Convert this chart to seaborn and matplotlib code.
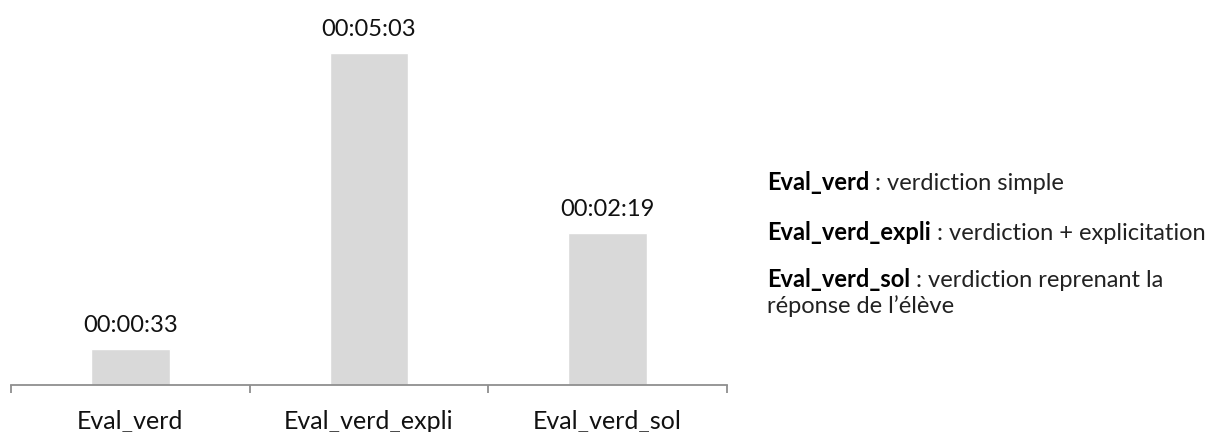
import matplotlib
matplotlib.use("Agg")
import matplotlib.pyplot as plt
import numpy as np
import pandas as pd
import seaborn as sns

CATEGORIES = ["Eval_verd", "Eval_verd_expli", "Eval_verd_sol"]
DURATIONS_S = [33, 303, 139]  # seconds
LEGEND_KEYS = ["Eval_verd", "Eval_verd_expli", "Eval_verd_sol"]
LEGEND_DESC = [" : verdiction simple", " : verdiction + explicitation",
               " : verdiction reprenant la"]
LEGEND_EXTRA = "réponse de l’élève"

BAR_COLOR = "#d9d9d9"
AXIS_COLOR = "#8f8f8f"
W, H = 1214, 432


def fmt_hms(sec):
    h, rem = divmod(int(sec), 3600)
    m, s = divmod(rem, 60)
    return f"{h:02d}:{m:02d}:{s:02d}"


def main():
    sns.set_theme(style="white")
    plt.rcParams["font.family"] = ["Lato", "DejaVu Sans"]

    df = pd.DataFrame({"cat": CATEGORIES, "sec": DURATIONS_S})

    fig = plt.figure(figsize=(W / 100, H / 100), dpi=100)
    ax = fig.add_axes([11 / W, 1 - 385 / H, 716 / W, 385 / H])
    sns.barplot(data=df, x="cat", y="sec", color=BAR_COLOR, width=0.33,
                saturation=1, ax=ax)

    ax.set_ylim(0, 351)
    ax.set_xlim(-0.5, len(CATEGORIES) - 0.5)
    for side in ("left", "right", "top"):
        ax.spines[side].set_visible(False)
    ax.spines["bottom"].set_color(AXIS_COLOR)
    ax.spines["bottom"].set_linewidth(1.3)
    ax.set_yticks([])
    ax.set_xlabel("")
    ax.set_ylabel("")

    # category labels on major ticks, tick marks at boundaries via minor ticks
    ax.tick_params(axis="x", which="major", length=0, pad=18, labelsize=18,
                   labelcolor="#111111")
    ax.set_xticks(np.arange(-0.5, len(CATEGORIES)), minor=True)
    ax.tick_params(axis="x", which="minor", bottom=True, length=6, width=1.3,
                   color=AXIS_COLOR, direction="out")

    for i, v in enumerate(DURATIONS_S):
        ax.annotate(fmt_hms(v), (i, v), xytext=(0, 12), textcoords="offset points",
                    ha="center", va="baseline", fontsize=17, color="#111111")

    # notes on the right
    baselines = [190, 240, 287]
    for y, key, desc in zip(baselines, LEGEND_KEYS, LEGEND_DESC):
        t = fig.text(767 / W, 1 - y / H, key, fontsize=17, fontweight="bold",
                     va="baseline", ha="left", color="#000000")
        ax.annotate(desc, xy=(1, 0), xycoords=t, va="bottom", ha="left",
                    fontsize=17, color="#222222", annotation_clip=False)
    fig.text(767 / W, 1 - 313 / H, LEGEND_EXTRA, fontsize=17,
             va="baseline", ha="left", color="#222222")

    fig.savefig("out.png", dpi=100)
    plt.close(fig)


if __name__ == "__main__":
    main()
